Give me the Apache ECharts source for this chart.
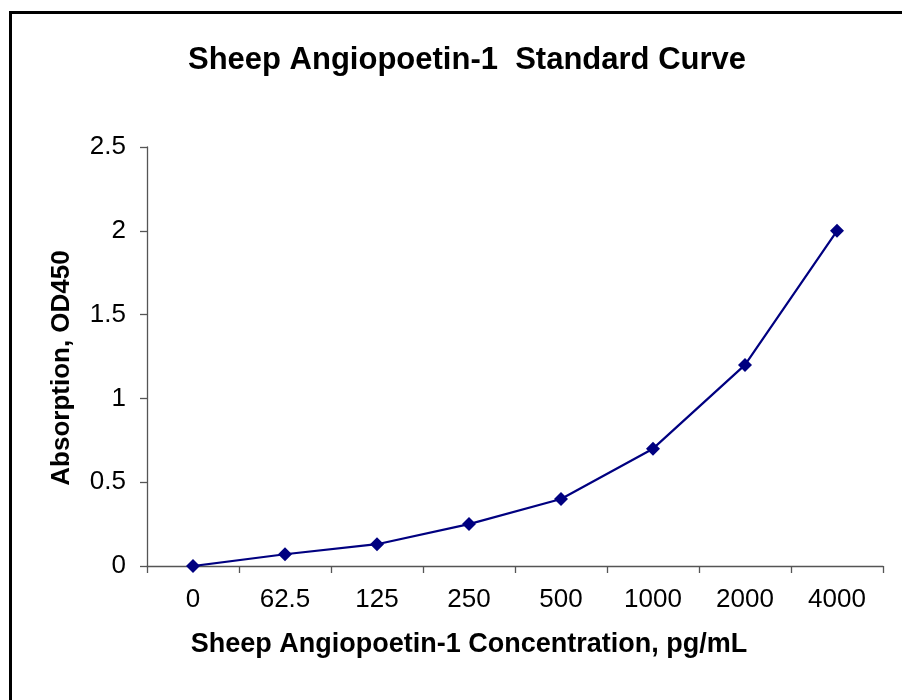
<!DOCTYPE html>
<html><head><meta charset="utf-8">
<script src="https://cdn.jsdelivr.net/npm/echarts@6/dist/echarts.min.js"></script>
<style>html,body{margin:0;padding:0;background:#fff}#c{width:902px;height:700px}</style>
</head><body><div id="c"></div>
<script>
const categories = ['0', '62.5', '125', '250', '500', '1000', '2000', '4000'];
const absorbance = [0, 0.07, 0.13, 0.25, 0.40, 0.70, 1.20, 2.00];
const yTicks = [0, 0.5, 1, 1.5, 2, 2.5];
const titleText = 'Sheep Angiopoetin-1  Standard Curve';
const xName = 'Sheep Angiopoetin-1 Concentration, pg/mL';
const yName = 'Absorption, OD450';

const chart = echarts.init(document.getElementById('c'), null, {renderer: 'canvas'});
const font = '"Liberation Sans", Arial, sans-serif';
chart.setOption({
  animation: false,
  backgroundColor: '#fff',
  graphic: [{
    type: 'rect', left: 8, top: 10, shape: {width: 1000, height: 1000},
    style: {fill: 'none', stroke: '#000', lineWidth: 3}, silent: true
  }, {
    type: 'text', x: 469, y: 645, silent: true,
    style: {text: xName, font: 'bold 27px ' + font, fill: '#000', align: 'center', verticalAlign: 'middle'}
  }, {
    type: 'text', x: 62, y: 368, rotation: Math.PI / 2, silent: true,
    style: {text: yName, font: 'bold 26px ' + font, fill: '#000', align: 'center', verticalAlign: 'middle'}
  }],
  title: {
    text: titleText,
    left: 462, top: 40, textAlign: 'center',
    textStyle: {fontFamily: font, fontWeight: 'bold', fontSize: 31, color: '#000'}
  },
  grid: {left: 147, top: 147, right: 19, bottom: 134, containLabel: false},
  xAxis: {
    type: 'category', data: categories, boundaryGap: true,
    axisLine: {lineStyle: {color: '#555', width: 1.3}},
    axisTick: {show: true, length: 7, alignWithLabel: false, lineStyle: {color: '#555', width: 1.3}},
    axisLabel: {fontFamily: font, fontSize: 26, color: '#000', margin: 21, interval: 0},
    splitLine: {show: false}
  },
  yAxis: {
    type: 'value', min: 0, max: 2.5, interval: 0.5,
    axisLine: {show: true, lineStyle: {color: '#555', width: 1.3}},
    axisTick: {show: true, length: 7, inside: false, lineStyle: {color: '#555', width: 1.3}},
    axisLabel: {fontFamily: font, fontSize: 26, color: '#000', margin: 21,
      formatter: v => yTicks.includes(v) ? String(v) : ''},
    splitLine: {show: false}
  },
  series: [{
    type: 'line', data: absorbance,
    symbol: 'diamond', symbolSize: 14,
    lineStyle: {color: '#000080', width: 2.2},
    itemStyle: {color: '#000080'}
  }]
});
</script></body></html>
